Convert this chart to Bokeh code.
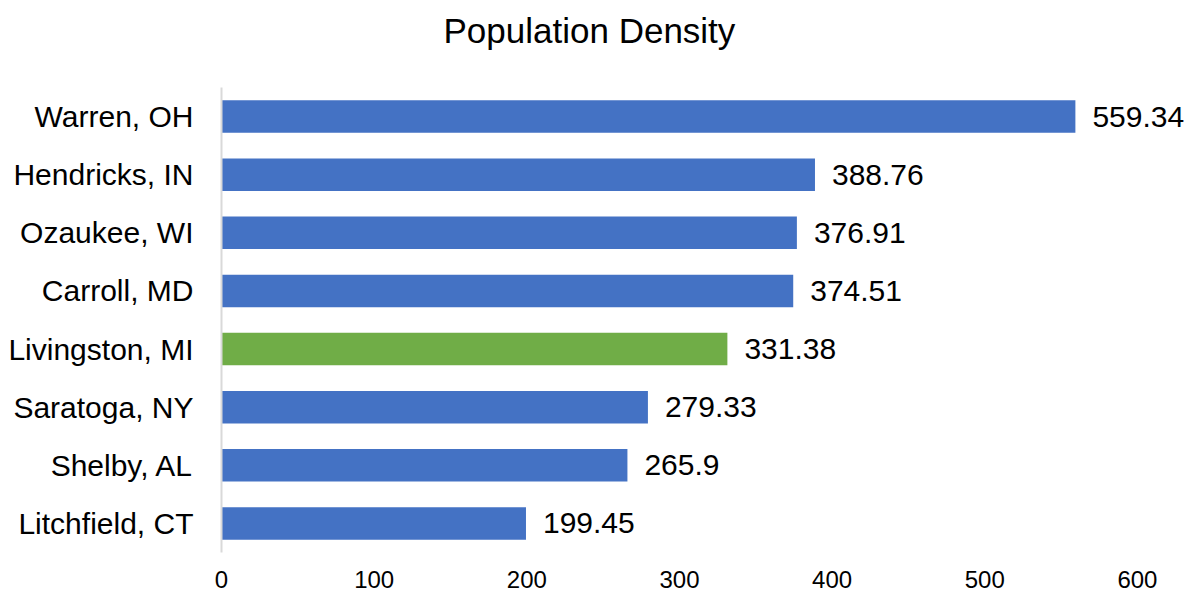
from bokeh.plotting import figure
from bokeh.models import ColumnDataSource, Range1d, FactorRange, LabelSet, FixedTicker, Title
from bokeh.core.properties import value
from bokeh.embed import file_html
from bokeh.resources import INLINE

categories = ["Warren, OH", "Hendricks, IN", "Ozaukee, WI", "Carroll, MD",
              "Livingston, MI", "Saratoga, NY", "Shelby, AL", "Litchfield, CT"]
values = [559.34, 388.76, 376.91, 374.51, 331.38, 279.33, 265.9, 199.45]
value_labels = ["559.34", "388.76", "376.91", "374.51", "331.38", "279.33", "265.9", "199.45"]
highlight = "Livingston, MI"
x_ticks = [0, 100, 200, 300, 400, 500, 600]
title_text = "Population Density"

BLUE = "#4472C4"
GREEN = "#70AD47"
FONT = "Liberation Sans"

colors = [GREEN if c == highlight else BLUE for c in categories]
source = ColumnDataSource(dict(cat=categories, val=values, lab=value_labels, color=colors))

p = figure(width=1191, height=596, output_backend="svg", toolbar_location=None,
           y_range=FactorRange(*list(reversed(categories))), x_range=Range1d(0, 635.4),
           min_border_left=221, min_border_right=0, min_border_top=87, min_border_bottom=44)

p.hbar(y="cat", right="val", left=0, height=0.56, color="color", line_color=None, source=source)

labels = LabelSet(x="val", y="cat", text="lab", source=source, x_offset=17,
                  text_baseline="middle", text_align="left",
                  text_font=value(FONT), text_font_size="30px", text_color="#000000")
p.add_layout(labels)

# spacer between frame and title (closest to the frame)
spacer = Title(text=" ", text_font_size="1px", standoff=28, text_color="white")
p.add_layout(spacer, "above")

main_title = Title(text=title_text, align="left", offset=222, text_font=FONT,
                   text_font_size="35px", text_font_style="normal", text_color="#000000",
                   standoff=14)
p.add_layout(main_title, "above")

p.outline_line_color = None
p.xgrid.grid_line_color = None
p.ygrid.grid_line_color = None
p.background_fill_color = "white"
p.border_fill_color = "white"

xa = p.xaxis[0]
xa.ticker = FixedTicker(ticks=x_ticks)
xa.axis_line_color = None
xa.major_tick_line_color = None
xa.minor_tick_line_color = None
xa.major_tick_out = 0
xa.major_tick_in = 0
xa.major_label_standoff = 18
xa.major_label_text_font = FONT
xa.major_label_text_font_size = "24px"
xa.major_label_text_color = "#000000"

ya = p.yaxis[0]
ya.axis_line_color = "#D9D9D9"
ya.axis_line_width = 2
ya.major_tick_line_color = None
ya.minor_tick_line_color = None
ya.major_tick_out = 0
ya.major_tick_in = 0
ya.major_label_standoff = 28
ya.major_label_text_font = FONT
ya.major_label_text_font_size = "30px"
ya.major_label_text_color = "#000000"

open("out.html", "w").write(file_html(p, INLINE))
